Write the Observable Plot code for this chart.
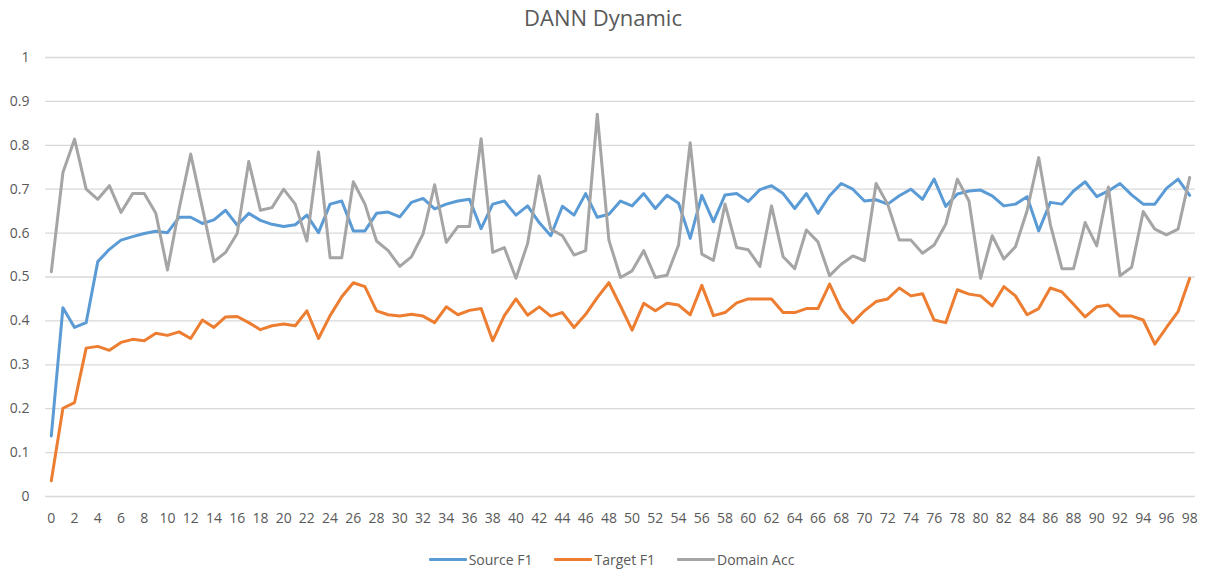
<!DOCTYPE html>
<html>
<head>
<meta charset="utf-8">
<script src="https://cdn.jsdelivr.net/npm/d3@7"></script>
<script src="https://cdn.jsdelivr.net/npm/@observablehq/plot@0.6"></script>
<style>
  body { margin: 0; background: #fff; font-family: "Open Sans", sans-serif; }
  #wrap { width: 1206px; height: 572px; position: relative; overflow: hidden; }
  #title { height: 38px; line-height: 34px; text-align: center; font-size: 22px; color: #595959; }
  #legend { display: flex; justify-content: center; align-items: center; height: 20px; font-size: 14px; color: #595959; padding-left: 17px; }
  .item { display: flex; align-items: center; margin: 0 11px; }
  .sw { width: 38px; height: 3px; margin-right: 2px; border-radius: 1px; }
</style>
</head>
<body>
<div id="wrap">
  <div id="title">DANN Dynamic</div>
  <div id="chart"></div>
  <div id="legend"></div>
</div>
<script>
const epochs = d3.range(0, 99);
const xTickLabels = d3.range(0, 99, 2);
const yTickLabels = [0, 0.1, 0.2, 0.3, 0.4, 0.5, 0.6, 0.7, 0.8, 0.9, 1];

const seriesNames = ["Source F1", "Target F1", "Domain Acc"];
const seriesColors = ["#5B9BD5", "#ED7D31", "#A5A5A5"];

const sourceF1 = [
  0.138, 0.430, 0.385, 0.396, 0.535, 0.563, 0.584, 0.592, 0.599, 0.604,
  0.601, 0.636, 0.636, 0.622, 0.630, 0.652, 0.618, 0.645, 0.629, 0.620,
  0.615, 0.619, 0.641, 0.601, 0.666, 0.673, 0.605, 0.605, 0.645, 0.648,
  0.637, 0.670, 0.679, 0.655, 0.666, 0.673, 0.677, 0.610, 0.666, 0.673,
  0.641, 0.662, 0.624, 0.594, 0.661, 0.641, 0.690, 0.636, 0.643, 0.673,
  0.662, 0.690, 0.656, 0.686, 0.668, 0.588, 0.686, 0.626, 0.687, 0.690,
  0.672, 0.699, 0.708, 0.690, 0.656, 0.690, 0.645, 0.685, 0.713, 0.700,
  0.673, 0.676, 0.666, 0.685, 0.700, 0.677, 0.723, 0.661, 0.689, 0.696,
  0.698, 0.685, 0.662, 0.666, 0.683, 0.605, 0.670, 0.666, 0.696, 0.717,
  0.683, 0.696, 0.713, 0.687, 0.666, 0.666, 0.702, 0.723, 0.686
];

const targetF1 = [
  0.036, 0.201, 0.214, 0.338, 0.342, 0.333, 0.351, 0.358, 0.355, 0.372,
  0.367, 0.375, 0.360, 0.402, 0.385, 0.409, 0.410, 0.396, 0.380, 0.389,
  0.393, 0.389, 0.423, 0.360, 0.412, 0.455, 0.487, 0.478, 0.423, 0.414,
  0.411, 0.415, 0.411, 0.396, 0.432, 0.414, 0.424, 0.428, 0.355, 0.412,
  0.450, 0.413, 0.432, 0.411, 0.419, 0.385, 0.415, 0.453, 0.487, 0.434,
  0.379, 0.440, 0.423, 0.440, 0.436, 0.414, 0.481, 0.412, 0.419, 0.441,
  0.450, 0.450, 0.450, 0.419, 0.419, 0.428, 0.428, 0.484, 0.427, 0.396,
  0.423, 0.444, 0.450, 0.475, 0.457, 0.462, 0.402, 0.396, 0.471, 0.461,
  0.457, 0.434, 0.478, 0.457, 0.414, 0.428, 0.475, 0.466, 0.438, 0.409,
  0.432, 0.436, 0.411, 0.411, 0.402, 0.347, 0.385, 0.421, 0.497
];

const domainAcc = [
  0.512, 0.738, 0.814, 0.700, 0.677, 0.708, 0.647, 0.690, 0.690, 0.645,
  0.516, 0.655, 0.780, 0.658, 0.535, 0.556, 0.599, 0.763, 0.652, 0.658,
  0.700, 0.666, 0.582, 0.785, 0.544, 0.544, 0.717, 0.666, 0.582, 0.560,
  0.524, 0.546, 0.598, 0.710, 0.579, 0.615, 0.615, 0.815, 0.556, 0.567,
  0.497, 0.576, 0.730, 0.609, 0.594, 0.550, 0.560, 0.871, 0.584, 0.499,
  0.514, 0.560, 0.499, 0.504, 0.573, 0.806, 0.552, 0.538, 0.666, 0.567,
  0.562, 0.524, 0.662, 0.546, 0.519, 0.607, 0.580, 0.503, 0.529, 0.548,
  0.537, 0.713, 0.666, 0.584, 0.584, 0.554, 0.573, 0.620, 0.723, 0.673,
  0.497, 0.594, 0.541, 0.569, 0.651, 0.772, 0.620, 0.519, 0.519, 0.624,
  0.571, 0.705, 0.503, 0.522, 0.649, 0.609, 0.596, 0.609, 0.727
];

const seriesValues = [sourceF1, targetF1, domainAcc];
const rows = [];
seriesNames.forEach((name, s) => {
  epochs.forEach((e, i) => rows.push({ series: name, epoch: e, value: seriesValues[s][i] }));
});

const chart = Plot.plot({
  width: 1206,
  height: 511,
  marginLeft: 45,
  marginRight: 11,
  marginTop: 19,
  marginBottom: 53,
  style: { fontFamily: "'Open Sans', sans-serif", fontSize: "14px", color: "#595959", background: "white" },
  x: {
    type: "linear",
    domain: [-0.5, 98.5],
    ticks: xTickLabels,
    tickSize: 0,
    tickPadding: 17,
    tickFormat: d => String(d),
    label: null
  },
  y: {
    domain: [0, 1],
    ticks: yTickLabels,
    tickSize: 0,
    tickPadding: 16,
    tickFormat: d => String(d),
    label: null
  },
  color: { domain: seriesNames, range: seriesColors },
  marks: [
    Plot.gridY(yTickLabels, { stroke: "#d9d9d9", strokeOpacity: 1, strokeWidth: 1.3 }),
    Plot.line(rows, {
      x: "epoch", y: "value", z: "series", stroke: "series",
      strokeWidth: 3, strokeLinejoin: "round", strokeLinecap: "round"
    })
  ]
});
document.getElementById("chart").appendChild(chart);

const legend = document.getElementById("legend");
seriesNames.forEach((name, i) => {
  const item = document.createElement("div");
  item.className = "item";
  const sw = document.createElement("div");
  sw.className = "sw";
  sw.style.background = seriesColors[i];
  const label = document.createElement("span");
  label.textContent = name;
  item.appendChild(sw);
  item.appendChild(label);
  legend.appendChild(item);
});
</script>
</body>
</html>
